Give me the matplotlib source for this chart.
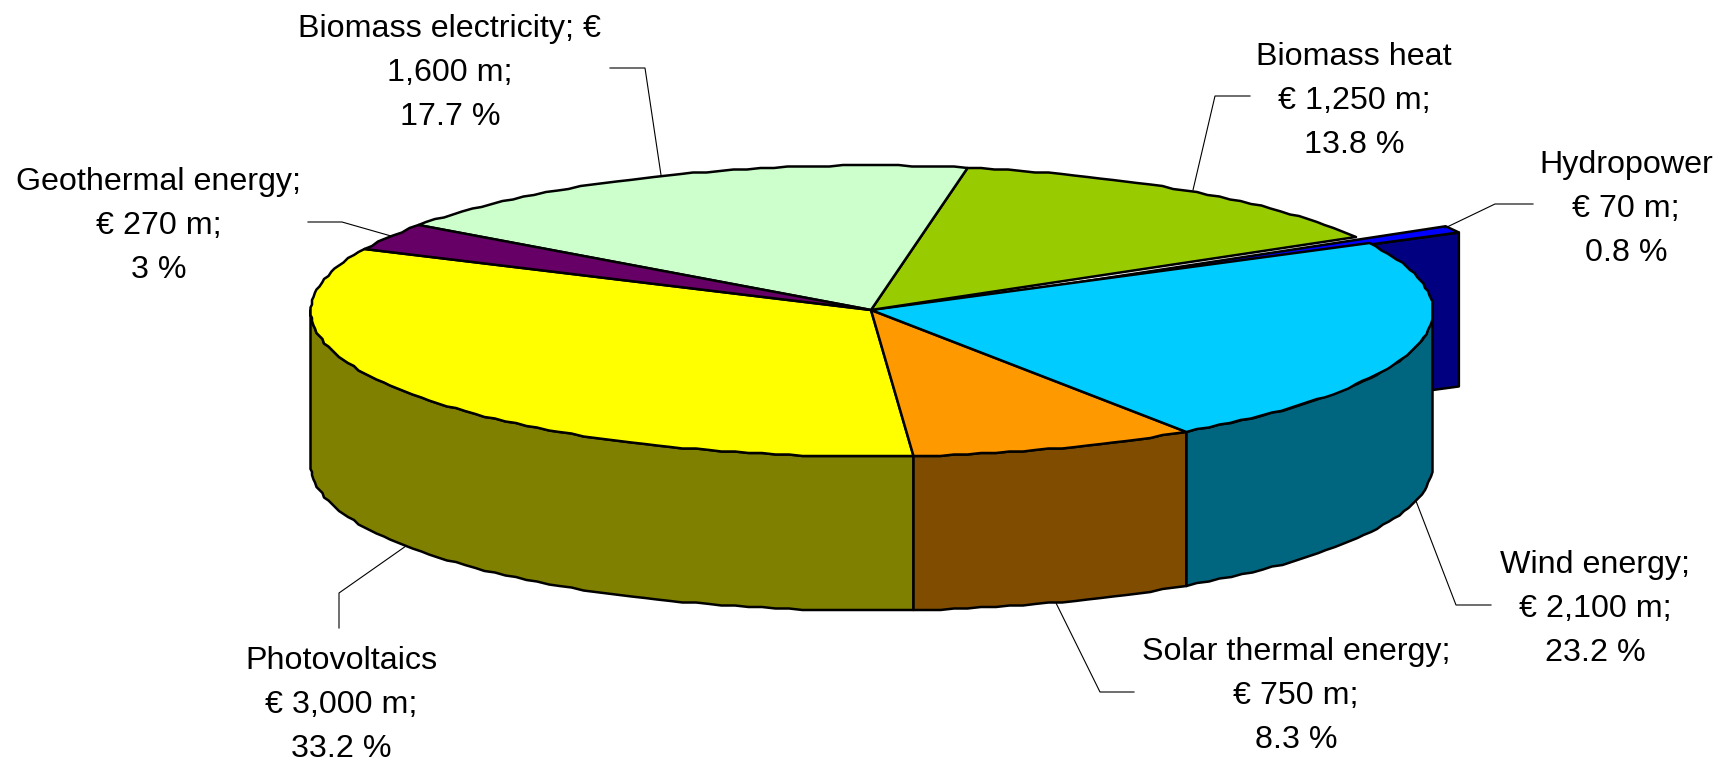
import numpy as np
import matplotlib
matplotlib.use("Agg")
import matplotlib.pyplot as plt
from matplotlib.patches import Polygon

categories = ["Photovoltaics", "Solar thermal energy", "Wind energy", "Hydropower",
              "Biomass heat", "Biomass electricity", "Geothermal energy"]
values_m = [3000, 750, 2100, 70, 1250, 1600, 270]
label_lines = [
    ["Photovoltaics", "€ 3,000 m;", "33.2 %"],
    ["Solar thermal energy;", "€ 750 m;", "8.3 %"],
    ["Wind energy;", "€ 2,100 m;", "23.2 %"],
    ["Hydropower", "€ 70 m;", "0.8 %"],
    ["Biomass heat", "€ 1,250 m;", "13.8 %"],
    ["Biomass electricity; €", "1,600 m;", "17.7 %"],
    ["Geothermal energy;", "€ 270 m;", "3 %"],
]
top_colors = ["#FFFF00", "#FF9900", "#00CCFF", "#0000FF", "#99CC00", "#CCFFCC", "#660066"]
wall_colors = ["#808000", "#804D00", "#006680", "#000080", "#4D6600", "#668066", "#330033"]

# layout (pixels of the 1728x761 canvas)
CX, CY, RX, RY, DEPTH = 872, 311, 561, 145.5, 154
START = 154.7
EXPLODE = {"Hydropower": (90, -11)}
label_pos = [(341, 669), (1296, 660), (1595, 573), (1626, 173), (1354, 65), (450, 37), (159, 190)]
LINE_STEP = 44
leaders = [
    [(339, 628), (339, 593), (406, 546)],
    [(1134, 692), (1100, 692), (1056, 603)],
    [(1491, 605), (1456, 605), (1416, 501)],
    [(1533, 204), (1495, 204), (1445, 228)],
    [(1250, 96), (1215, 96), (1193, 190)],
    [(610, 68), (645, 68), (661, 175)],
    [(308, 222), (342, 222), (391, 236)],
]

plt.rcParams["font.family"] = ["Liberation Sans", "DejaVu Sans"]
fig = plt.figure(figsize=(17.28, 7.61), dpi=100)
ax = fig.add_axes([0, 0, 1, 1])
ax.set_xlim(0, 1728)
ax.set_ylim(761, 0)
ax.axis("off")


def arc(a0, a1, dx=0, dy=0, grain=1.5):
    n = max(2, int(abs(a1 - a0) / 1.4) + 1)
    t = np.radians(np.linspace(a0, a1, n))
    x = CX + RX * np.cos(t)
    y = CY - RY * np.sin(t)
    x = np.round(x / grain) * grain + dx
    y = np.round(y / grain) * grain + dy
    return np.column_stack([x, y])


fracs = np.array(values_m, dtype=float) / sum(values_m)
edges = START + np.concatenate([[0], np.cumsum(fracs) * 360])
LW = 1.8
pj = dict(edgecolor="black", linewidth=LW, joinstyle="round")

# exploded wedge first, it sits behind its neighbours
for i, name in enumerate(categories):
    if name in EXPLODE:
        dx, dy = EXPLODE[name]
        t0, t1 = np.radians(edges[i]), np.radians(edges[i + 1])
        p0 = (CX + dx, CY + dy)
        p1 = (CX + dx + RX * np.cos(t0), CY + dy - RY * np.sin(t0))
        p2 = (CX + dx + RX * np.cos(t1), CY + dy - RY * np.sin(t1))
        ax.add_patch(Polygon([p0, p1, (p1[0], p1[1] + DEPTH), (p0[0], p0[1] + DEPTH)],
                             facecolor=wall_colors[i], zorder=1, **pj))
        ax.add_patch(Polygon([p0, p1, p2], facecolor=top_colors[i], zorder=2, **pj))

# curved walls of the front half
for i, name in enumerate(categories):
    if name in EXPLODE:
        continue
    a0, a1 = edges[i], edges[i + 1]
    for lo, hi in ((a0, a1), (a0 + 360, a1 + 360), (a0 - 360, a1 - 360)):
        lo2, hi2 = max(lo, 180), min(hi, 360)
        if hi2 > lo2:
            top = arc(lo2, hi2)
            bot = top.copy()
            bot[:, 1] += DEPTH
            ax.add_patch(Polygon(np.vstack([top, bot[::-1]]), facecolor=wall_colors[i],
                                 zorder=3, **pj))

# top faces
for i, name in enumerate(categories):
    if name in EXPLODE:
        continue
    pts = np.vstack([[[CX - 1, CY - 1]], arc(edges[i], edges[i + 1])])
    ax.add_patch(Polygon(pts, facecolor=top_colors[i], zorder=4, **pj))

# leader lines
for pts in leaders:
    xs, ys = zip(*pts)
    ax.plot(xs, ys, color="black", lw=0.8, zorder=5, solid_joinstyle="miter")

# data labels
for lines, (x, y) in zip(label_lines, label_pos):
    for k, s in enumerate(lines):
        ax.text(x, y + k * LINE_STEP, s, ha="center", va="baseline", fontsize=23.2,
                color="black", zorder=6)

fig.savefig("out.png", dpi=100, facecolor="white")
